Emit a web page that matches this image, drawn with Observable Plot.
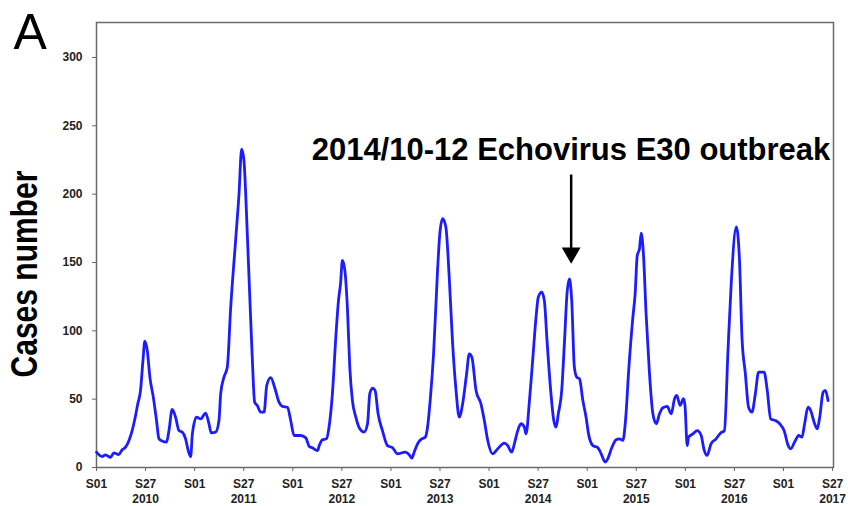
<!DOCTYPE html>
<html><head><meta charset="utf-8">
<script src="https://cdn.jsdelivr.net/npm/d3@7"></script>
<script src="https://cdn.jsdelivr.net/npm/@observablehq/plot@0.6"></script>
<style>
html,body{margin:0;padding:0;background:#fff;}
#chart{width:848px;height:506px;overflow:hidden;}
</style></head><body><div id="chart"></div>
<script>
// Week index counted from S01 2010 (week 0) to S27 2017 (week 390)
const weeks = [0,3,4.8,7.4,9.2,11.8,13.6,15.4,17.2,18.9,20.7,21.9,23.3,24.6,25.6,26.9,28.3,30.1,31.8,33.1,34.8,37.1,38.4,40.1,41.9,43.7,45.4,47.2,48.6,49.9,50.8,53,55.2,57.8,59.6,60.8,63.1,64.9,65.8,67.5,69.3,71.1,73.7,75.5,76.9,78.1,79.9,81.3,82.6,83.8,85.2,87,88.8,90.2,92.3,94.6,96.7,98.5,101.2,102.9,104.7,108.2,110.9,112.7,114.4,117.1,118,119.7,121.8,123.2,125,126.8,128.2,129.3,130.3,131.6,133,134.2,135.6,137.4,139.5,141.8,143.6,144.8,146.3,147.6,149.2,151.5,154.2,156.9,159.5,163.6,165.7,167.1,168.3,170.6,172.4,174.2,175.4,176.8,178.6,180.7,181.9,183.4,185.1,186.9,188.7,190.5,192.2,194,196.1,197.5,198.9,201.1,203.7,205.5,207.3,209.9,212.6,216.1,217.9,220,221.4,223.2,224.9,226.7,227.6,229.4,231.1,232.9,234.1,235.9,237.3,238.7,240.5,242.3,243.5,244.7,246.5,247.9,249.3,250.6,251.8,253.2,254.5,255.9,257.7,259.4,260.7,263,265.7,267.4,269.5,270.9,273,275.3,277.1,278.9,280.3,282.1,284.2,285.4,286.5,287.7,288.6,289.8,291.2,293,294.8,296.6,298.3,300.1,302.4,304.5,306.3,307.5,309.2,311,311.8,313,313.7,316,318.3,320.4,321.8,323.5,325.6,328.3,330.6,332.7,334.6,336.3,339,340.7,342,343.8,345.5,347.3,349.1,350.8,353.7,355.4,357.2,359.7,362,364.3,366.5,367.8,370.3,372.1,373.8,375.2,377,378.4,380.2,381.9,383.2,385,386.2,387.6];
const cases = [11.2,8,9.3,7.5,10.7,9.5,13,14.9,19.8,27,38,46.8,56,78,92.5,85.6,66,51.5,34.4,21,19.3,18.5,27,42.5,36.8,27,25.9,21,12.4,8,24.6,36.8,35.6,39.8,32,25.4,25.9,34.4,54,66,73.4,117,166,200,233,225,171,122,78,47.8,45.4,40.5,40.5,60,65.7,57.6,47.8,44.7,44.1,34.4,23.4,23.4,21.7,15.4,14.4,12.4,16,20.3,21,29.5,54,95.4,122,134.5,151.5,144,115,73.4,49,36.8,28.3,25.9,32,54,58,56.4,39.3,27,16,14.4,10,11.2,9.3,6.8,11.2,18.5,21,22.2,29.5,49,83.2,144,171,182,176,139,90.5,56.4,36.8,46.6,68.6,83.2,80.7,56.4,46.6,34.4,19.8,10,13.7,17.8,16,11.2,17.3,27,32,29.5,24.6,49,78.3,110,124.7,128.3,122,93,58.8,34.4,29.5,39.3,56.4,90.5,127,138,122,73.4,66,65,49,36.8,24.6,16,14.4,10,4,6.4,14.4,20.3,21,19.8,34.4,73.4,110,127,155,160,171.5,156,112.5,68.6,39.3,32,39.3,43.7,44.7,39.3,50.3,52.7,45.4,50.3,45.4,16,22.2,24.6,27,23.4,13.7,8.8,17.3,21,25.1,27,85.6,134.5,176,151.5,95.4,68.6,44.1,40.5,54,69.8,69.8,56.4,35.6,34.4,32,27,16,13.7,19.8,23.4,22.2,32,44.1,41.7,33.2,28.3,36.8,55,56.4,49];

const tickWeeks = [0,26,52,78,104,130,156,182,208,234,260,286,312,338,364,390];
const tickLabels = ["S01","S27\n2010","S01","S27\n2011","S01","S27\n2012","S01","S27\n2013","S01","S27\n2014","S01","S27\n2015","S01","S27\n2016","S01","S27\n2017"];
const yTicks = [0,50,100,150,200,250,300];

const panelLabel = "A";
const yLabel = "Cases number";
const noteText = "2014/10-12 Echovirus E30 outbreak";
const noteWeek = 114, noteCases = 232.6;
const arrowWeek = 251.5, arrowFrom = 214, arrowTo = 157;

const data = weeks.map((w, i) => ({week: w, cases: cases[i]}));
const labelOf = new Map(tickWeeks.map((w, i) => [w, tickLabels[i]]));
const FONT = "'Liberation Sans', Arial, Helvetica, sans-serif";

const chart = Plot.plot({
  width: 848, height: 506,
  marginLeft: 96, marginRight: 15, marginTop: 22, marginBottom: 39,
  style: {fontFamily: FONT, background: "#fff", color: "#222"},
  x: {domain: [0, 390.5]},
  y: {domain: [0, 325.6]},
  marks: [
    Plot.frame({stroke: "#6a6a6a", strokeWidth: 1.5}),
    Plot.axisY(yTicks, {tickSize: 4, tickPadding: 10, fontSize: 12, fontWeight: "bold", label: null, stroke: "#666", fill: "#222"}),
    Plot.axisX(tickWeeks, {tickSize: 4, tickPadding: 6, fontSize: 12, fontWeight: "bold", label: null, stroke: "#666", fill: "#222", lineHeight: 1.22, tickFormat: d => labelOf.get(d)}),
    Plot.line(data, {x: "week", y: "cases", stroke: "#1c1cff", strokeWidth: 2.8, curve: "monotone-x"}),
    Plot.ruleX([{w: arrowWeek, a: arrowTo, b: arrowFrom}], {x: "w", y1: "a", y2: "b", stroke: "#000", strokeWidth: 2.5}),
    Plot.dot([{w: arrowWeek, c: arrowTo}], {x: "w", y: "c", symbol: "triangle", rotate: 180, r: 7, fill: "#000", stroke: null}),
    Plot.text([{w: noteWeek, c: noteCases, t: noteText}], {x: "w", y: "c", text: "t", textAnchor: "start", lineAnchor: "middle", fontSize: 31, fontWeight: "bold", fill: "#000"}),
    Plot.text([yLabel], {frameAnchor: "left", rotate: -90, dx: -71, dy: 29, fontSize: 36, fontWeight: "bold", fill: "#000", lineAnchor: "middle", textAnchor: "middle"}),
    Plot.text([panelLabel], {frameAnchor: "top-left", dx: -83, dy: -9, fontSize: 50, fill: "#000", textAnchor: "start", lineAnchor: "top"})
  ]
});

d3.select(chart).selectAll("text").filter(function() { return this.textContent === yLabel; })
  .attr("textLength", 207).attr("lengthAdjust", "spacingAndGlyphs");

document.getElementById("chart").appendChild(chart);
</script></body></html>
